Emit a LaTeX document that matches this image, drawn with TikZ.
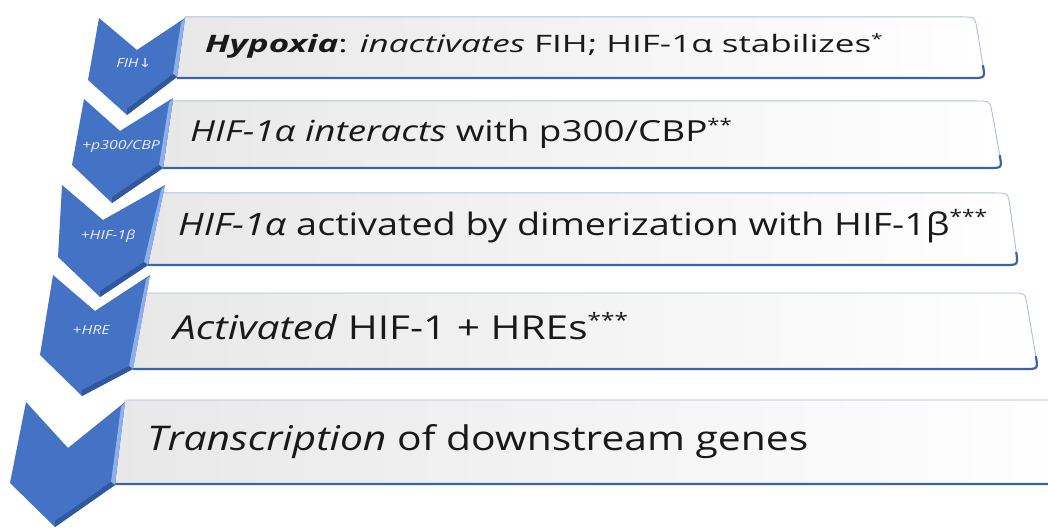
\documentclass[tikz,border=0pt]{standalone}
\usepackage{fontspec}
\setmainfont{Open Sans}
\newfontfamily\arrowfont{DejaVu Sans}
\usetikzlibrary{calc}
\definecolor{chev}{HTML}{4472C4}
\definecolor{chevdark}{HTML}{2E5395}
\definecolor{chevlight}{HTML}{8DB0EA}
\definecolor{edgelight}{HTML}{A9BEE4}
\definecolor{edgedark}{HTML}{3A62AE}
\newcommand\starsup[1]{\raisebox{0.36em}{\scalebox{0.6}{#1}}}
\tikzset{
  txt/.style={anchor=base west, inner sep=0pt, text=black!90},
  clabel/.style={anchor=center, inner sep=0pt, text=white!88!chev, font=\fontsize{12.5}{14}\selectfont\itshape},
}
\begin{document}
\begin{tikzpicture}[x=1pt,y=-1pt]
\useasboundingbox (0,0) rectangle (1048,529);
% boxes: TLx/TRx/Ty/BLx/BRx/By
\foreach \tlx/\trx/\ty/\blx/\brx/\by in {
  185/975/17/177/985/78,
  173/990/101/163/1002/168,
  163/1008/193/148/1018/265,
  143/1025/293/133/1038/369,
  125/1068/400/115/1075/484}{
  \coordinate (tl) at (\tlx,\ty);
  \coordinate (tr) at (\trx,\ty);
  \coordinate (br) at (\brx,\by);
  \coordinate (bl) at (\blx,\by);
  \fill[left color=black!9, right color=white]
    (tl) -- ($(tr)+(-13,0)$) .. controls (tr) .. ($(tr)!13pt!(br)$)
    -- ($(br)!13pt!(tr)$) .. controls (br) .. ($(br)+(-13,0)$) -- (bl) -- cycle;
  \draw[edgelight, line width=0.8pt]
    (tl) -- ($(tr)+(-13,0)$) .. controls (tr) .. ($(tr)!13pt!(br)$)
    -- ($(br)!13pt!(tr)$);
  \draw[edgedark, line width=2.2pt]
    ($(br)!13pt!(tr)$) .. controls (br) .. ($(br)+(-13,0)$) -- (bl);
}
% chevrons: A(top-left) N(notch) B(top-right) C(bottom-right) T(tip) D(bottom-left)
\foreach \ax/\ay/\nx/\ny/\bx/\by/\cx/\cy/\tx/\ty/\dx/\dy in {
  99/18/137/50/185/18/177/77/127/115/88/80,
  84/99/120/131/173/98/163/168/112/203/72/165,
  62/185/103/220/165/185/148/265/100/297/58/257,
  53/275/95/311/150/275/133/369/82/396/40/355,
  26/402/68/448/125/402/115/485/55/527/10/483}{
  \fill[chev] (\ax,\ay) -- (\nx,\ny) -- (\bx,\by) -- (\cx,\cy) -- (\tx,\ty) -- (\dx,\dy) -- cycle;
  \fill[chevlight] (\bx,\by) -- (\cx,\cy) -- (\cx-4,\cy-3) -- (\bx-4,\by+5) -- cycle;
  \fill[chevdark!85!chev] (\cx,\cy) -- (\tx,\ty) -- (\tx,\ty-6) -- (\cx-4,\cy-3) -- cycle;
}
% chevron labels
\node[clabel] (c1) at (134,63) {\scalebox{1.25}[1]{FIH{\arrowfont\char"2193}}};
\node[clabel] (c2) at (121,146) {\scalebox{1.27}[1]{+p300/CBP}};
\node[clabel] (c3) at (108,236) {\scalebox{1.27}[1]{+HIF-1β}};
\node[clabel] (c4) at (91,330) {\scalebox{1.27}[1]{+HRE}};
% texts
\node[txt, font=\fontsize{24}{28}\selectfont] (t1) at (205,53)
  {\scalebox{1.46}[1]{\textbf{\textit{Hypoxia}}: \textit{inactivates} FIH; HIF-1α stabilizes\starsup{*}}};
\node[txt, font=\fontsize{29}{34}\selectfont] (t2) at (190,142)
  {\scalebox{1.27}[1]{\textit{HIF-1α interacts} with p300/CBP\starsup{**}}};
\node[txt, font=\fontsize{31}{36}\selectfont] (t3) at (178,235)
  {\scalebox{1.22}[1]{\textit{HIF-1α} activated by dimerization with HIF-1β\starsup{***}}};
\node[txt, font=\fontsize{33}{38}\selectfont] (t4) at (173,339)
  {\scalebox{1.23}[1]{\textit{Activated} HIF-1 + HREs\starsup{***}}};
\node[txt, font=\fontsize{34}{40}\selectfont] (t5) at (147,450)
  {\scalebox{1.2}[1]{\textit{Transcription} of downstream genes}};
\end{tikzpicture}
\end{document}
